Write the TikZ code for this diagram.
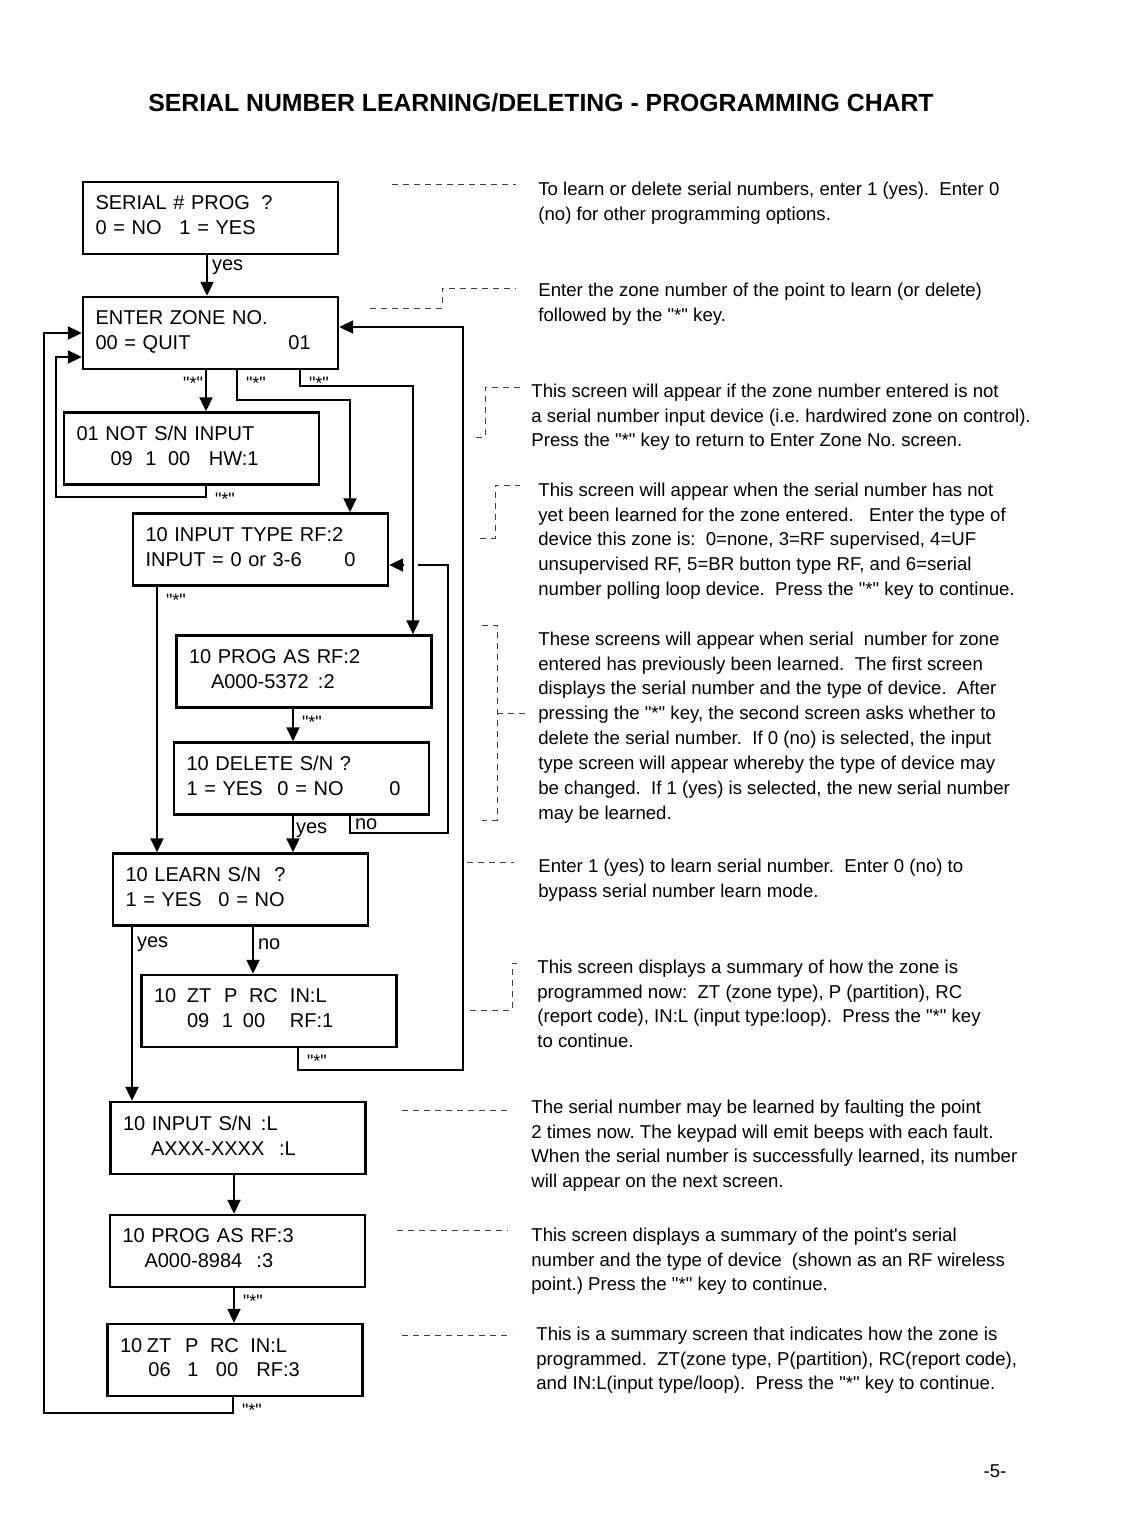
\documentclass[tikz,border=0pt]{standalone}
\usepackage{fontspec}
\setmainfont{Liberation Sans}[Ligatures=TeXOff]
\usepackage{tikz}
\usetikzlibrary{arrows.meta}
\tikzset{
  screen/.style={draw,line width=1.2pt,minimum width=127.5pt,minimum height=36pt,text width=115pt,inner xsep=6.25pt,inner ysep=0pt,align=left,font=\fontsize{10}{12.5}\selectfont},
  flow/.style={line width=1pt,-{Triangle[length=7pt,width=6.5pt]}},
  wire/.style={line width=1pt},
  leader/.style={black!75,line width=0.5pt,dash pattern=on 3pt off 2.5pt},
  note/.style={anchor=north west,inner sep=0pt,align=left,font=\fontsize{9.3}{12.45}\selectfont},
  star/.style={inner xsep=4pt,inner ysep=3pt,font=\fontsize{9}{9}\selectfont},
  lbl/.style={inner sep=2pt,font=\fontsize{10}{10}\selectfont}
}
\newcommand{\tb}[2]{\makebox[#1][l]{#2}}
\newcommand{\dn}{\rule[-2.5pt]{0pt}{2.5pt}}
\frenchspacing
\begin{document}
\begin{tikzpicture}[x=0.5pt,y=-0.5pt]
  \useasboundingbox (0,0) rectangle (1120,1526);
  \node[font=\bfseries\fontsize{12.4}{15}\selectfont] (title) at (541,103) {SERIAL NUMBER LEARNING/DELETING - PROGRAMMING CHART};
  \node[font=\fontsize{9.3}{11}\selectfont] (pageno) at (995,1471) {-5-};
  % keypad screens
  \node[screen] (serprog) at (210.5,218) {\tb{83pt}{SERIAL \# PROG}?\\\tb{42pt}{0 = NO}1 = YES\dn};
  \node[screen] (zone) at (210.5,333) {ENTER ZONE NO.\\\tb{96.5pt}{00 = QUIT}01\dn};
  \node[screen] (notsn) at (191.5,448.5) {01 NOT S/N INPUT\\\hspace*{17pt}\tb{17.5pt}{09}\tb{11.3pt}{1}\tb{20.4pt}{00}HW:1\dn};
  \node[screen] (intype) at (260.5,549.5) {10 INPUT TYPE RF:2\\\tb{99.5pt}{INPUT = 0 or 3-6}0\dn};
  \node[screen] (progas) at (304,671.5) {10 PROG AS RF:2\\\hspace*{11pt}\tb{53.5pt}{A000-5372}:2\dn};
  \node[screen] (delsn) at (301.5,778.5) {10 DELETE S/N ?\\\tb{45.5pt}{1 = YES}\tb{56pt}{0 = NO}0\dn};
  \node[screen] (learn) at (240.5,889.5) {\tb{74.5pt}{10 LEARN S/N}?\\\tb{46.5pt}{1 = YES}0 = NO\dn};
  \node[screen] (ztrf) at (269,1011) {\tb{16.5pt}{10}\tb{18.5pt}{ZT}\tb{12.5pt}{P}\tb{20.5pt}{RC}IN:L\\\hspace*{16.5pt}\tb{17.5pt}{09}\tb{10.5pt}{1}\tb{23.5pt}{00}RF:1\dn};
  \node[screen] (insn) at (238,1138) {\tb{69pt}{10 INPUT S/N}:L\\\hspace*{14pt}\tb{64pt}{AXXX-XXXX}:L\dn};
  \node[screen] (progrf) at (237.5,1251) {10 PROG AS RF:3\\\hspace*{11pt}\tb{56pt}{A000-8984}:3\dn};
  \node[screen] (ztsum) at (235,1360) {\tb{13.5pt}{10}\tb{19pt}{ZT}\tb{12.5pt}{P}\tb{20.2pt}{RC}IN:L\\\hspace*{14.2pt}\tb{19.5pt}{06}\tb{14.3pt}{1}\tb{20.2pt}{00}RF:3\dn};
  % flow
  \draw[flow] (serprog.south -| 207,0) -- node[lbl,right,pos=.3] {yes} (zone.north -| 207,0);
  \draw[flow] (zone.south -| 206,0) node[star,below left,xshift=3pt] {"*"} -- (notsn.north -| 206,0);
  \draw[flow] (zone.south -| 237,0) node[star,below right] {"*"} -- ++(0,30) -| (intype.north -| 350,0);
  \draw[flow] (zone.south -| 300,0) node[star,below right] {"*"} -- ++(0,16) -| (progas.north -| 413,0);
  \draw[flow] (notsn.south -| 206,0) node[star,below right] {"*"} -- ++(0,11) -| (56,357) -- (zone.west |- 0,357);
  \draw[flow] (intype.south -| 157,0) node[star,below right] {"*"} -- (learn.north -| 157,0);
  \draw[flow] (progas.south -| 293,0) node[star,below right] {"*"} -- (delsn.north -| 293,0);
  \draw[flow] (delsn.south -| 293,0) -- node[lbl,right,pos=.4,inner sep=1pt] {yes} (learn.north -| 293,0);
  \draw[wire] (delsn.south -| 350,0) -- node[lbl,right] {no} ++(0,17) -| (448,565) -- (418,565);
  \draw[flow] (404,565) -- (intype.east |- 0,565);
  \draw[flow] (learn.south -| 132,0) -- node[lbl,right,pos=.1] {yes} (insn.north -| 132,0);
  \draw[flow] (learn.south -| 253,0) -- node[lbl,right,pos=.37] {no} (ztrf.north -| 253,0);
  \draw[flow] (ztrf.south -| 298,0) node[star,below right] {"*"} -- ++(0,22) -| (463,327) -- (zone.east |- 0,327);
  \draw[flow] (insn.south -| 234,0) -- (progrf.north -| 234,0);
  \draw[flow] (progrf.south -| 234,0) node[star,below right] {"*"} -- (ztsum.north -| 234,0);
  \draw[flow] (ztsum.south -| 233,0) node[star,below right] {"*"} -- ++(0,16) -| (44,333) -- (zone.west |- 0,333);
  % notes
  \node[note] (note1) at (538,181.3) {To learn or delete serial numbers, enter 1 (yes).~ Enter 0\\(no) for other programming options.};
  \node[note] (note2) at (538,282.3) {Enter the zone number of the point to learn (or delete)\\followed by the "*" key.};
  \node[note] (note3) at (531,383.3) {This screen will appear if the zone number entered is not\\a serial number input device (i.e. hardwired zone on control).\\Press the "*" key to return to Enter Zone No. screen.};
  \node[note] (note4) at (538,482.3) {This screen will appear when the serial number has not\\yet been learned for the zone entered.~~ Enter the type of\\device this zone is:~ 0=none, 3=RF supervised, 4=UF\\unsupervised RF, 5=BR button type RF, and 6=serial\\number polling loop device.~ Press the "*" key to continue.};
  \node[note] (note5) at (538,631.3) {These screens will appear when serial~ number for zone\\entered has previously been learned.~ The first screen\\displays the serial number and the type of device.~ After\\pressing the "*" key, the second screen asks whether to\\delete the serial number.~ If 0 (no) is selected, the input\\type screen will appear whereby the type of device may\\be changed.~ If 1 (yes) is selected, the new serial number\\may be learned.};
  \node[note] (note6) at (538,858.3) {Enter 1 (yes) to learn serial number.~ Enter 0 (no) to\\bypass serial number learn mode.};
  \node[note] (note7) at (537,959.3) {This screen displays a summary of how the zone is\\programmed now:~ ZT (zone type), P (partition), RC\\(report code), IN:L (input type:loop).~ Press the "*" key\\to continue.};
  \node[note] (note8) at (531,1099.3) {The serial number may be learned by faulting the point\\2 times now. The keypad will emit beeps with each fault.\\When the serial number is successfully learned, its number\\will appear on the next screen.};
  \node[note] (note9) at (531,1227.3) {This screen displays a summary of the point's serial\\number and the type of device~ (shown as an RF wireless\\point.) Press the "*" key to continue.};
  \node[note] (note10) at (536,1326.3) {This is a summary screen that indicates how the zone is\\programmed.~ ZT(zone type, P(partition), RC(report code),\\and IN:L(input type/loop).~ Press the "*" key to continue.};
  % leaders
  \draw[leader] (392,184) -- (516,184);
  \draw[leader] (370,308) -- (442,308) -- (442,288) -- (516,288);
  \draw[leader] (476,437) -- (485,437) -- (485,387) -- (520,387);
  \draw[leader] (480,538) -- (495,538) -- (495,485) -- (520,485);
  \draw[leader] (482,625) -- (497,625) -- (497,820) -- (482,820) (497,713) -- (530,713);
  \draw[leader] (467,862) -- (514,862);
  \draw[leader] (470,1010) -- (512,1010) -- (512,963) -- (518,963);
  \draw[leader] (402,1110) -- (512,1110);
  \draw[leader] (397,1230) -- (508,1230);
  \draw[leader] (402,1335) -- (512,1335);
\end{tikzpicture}
\end{document}
